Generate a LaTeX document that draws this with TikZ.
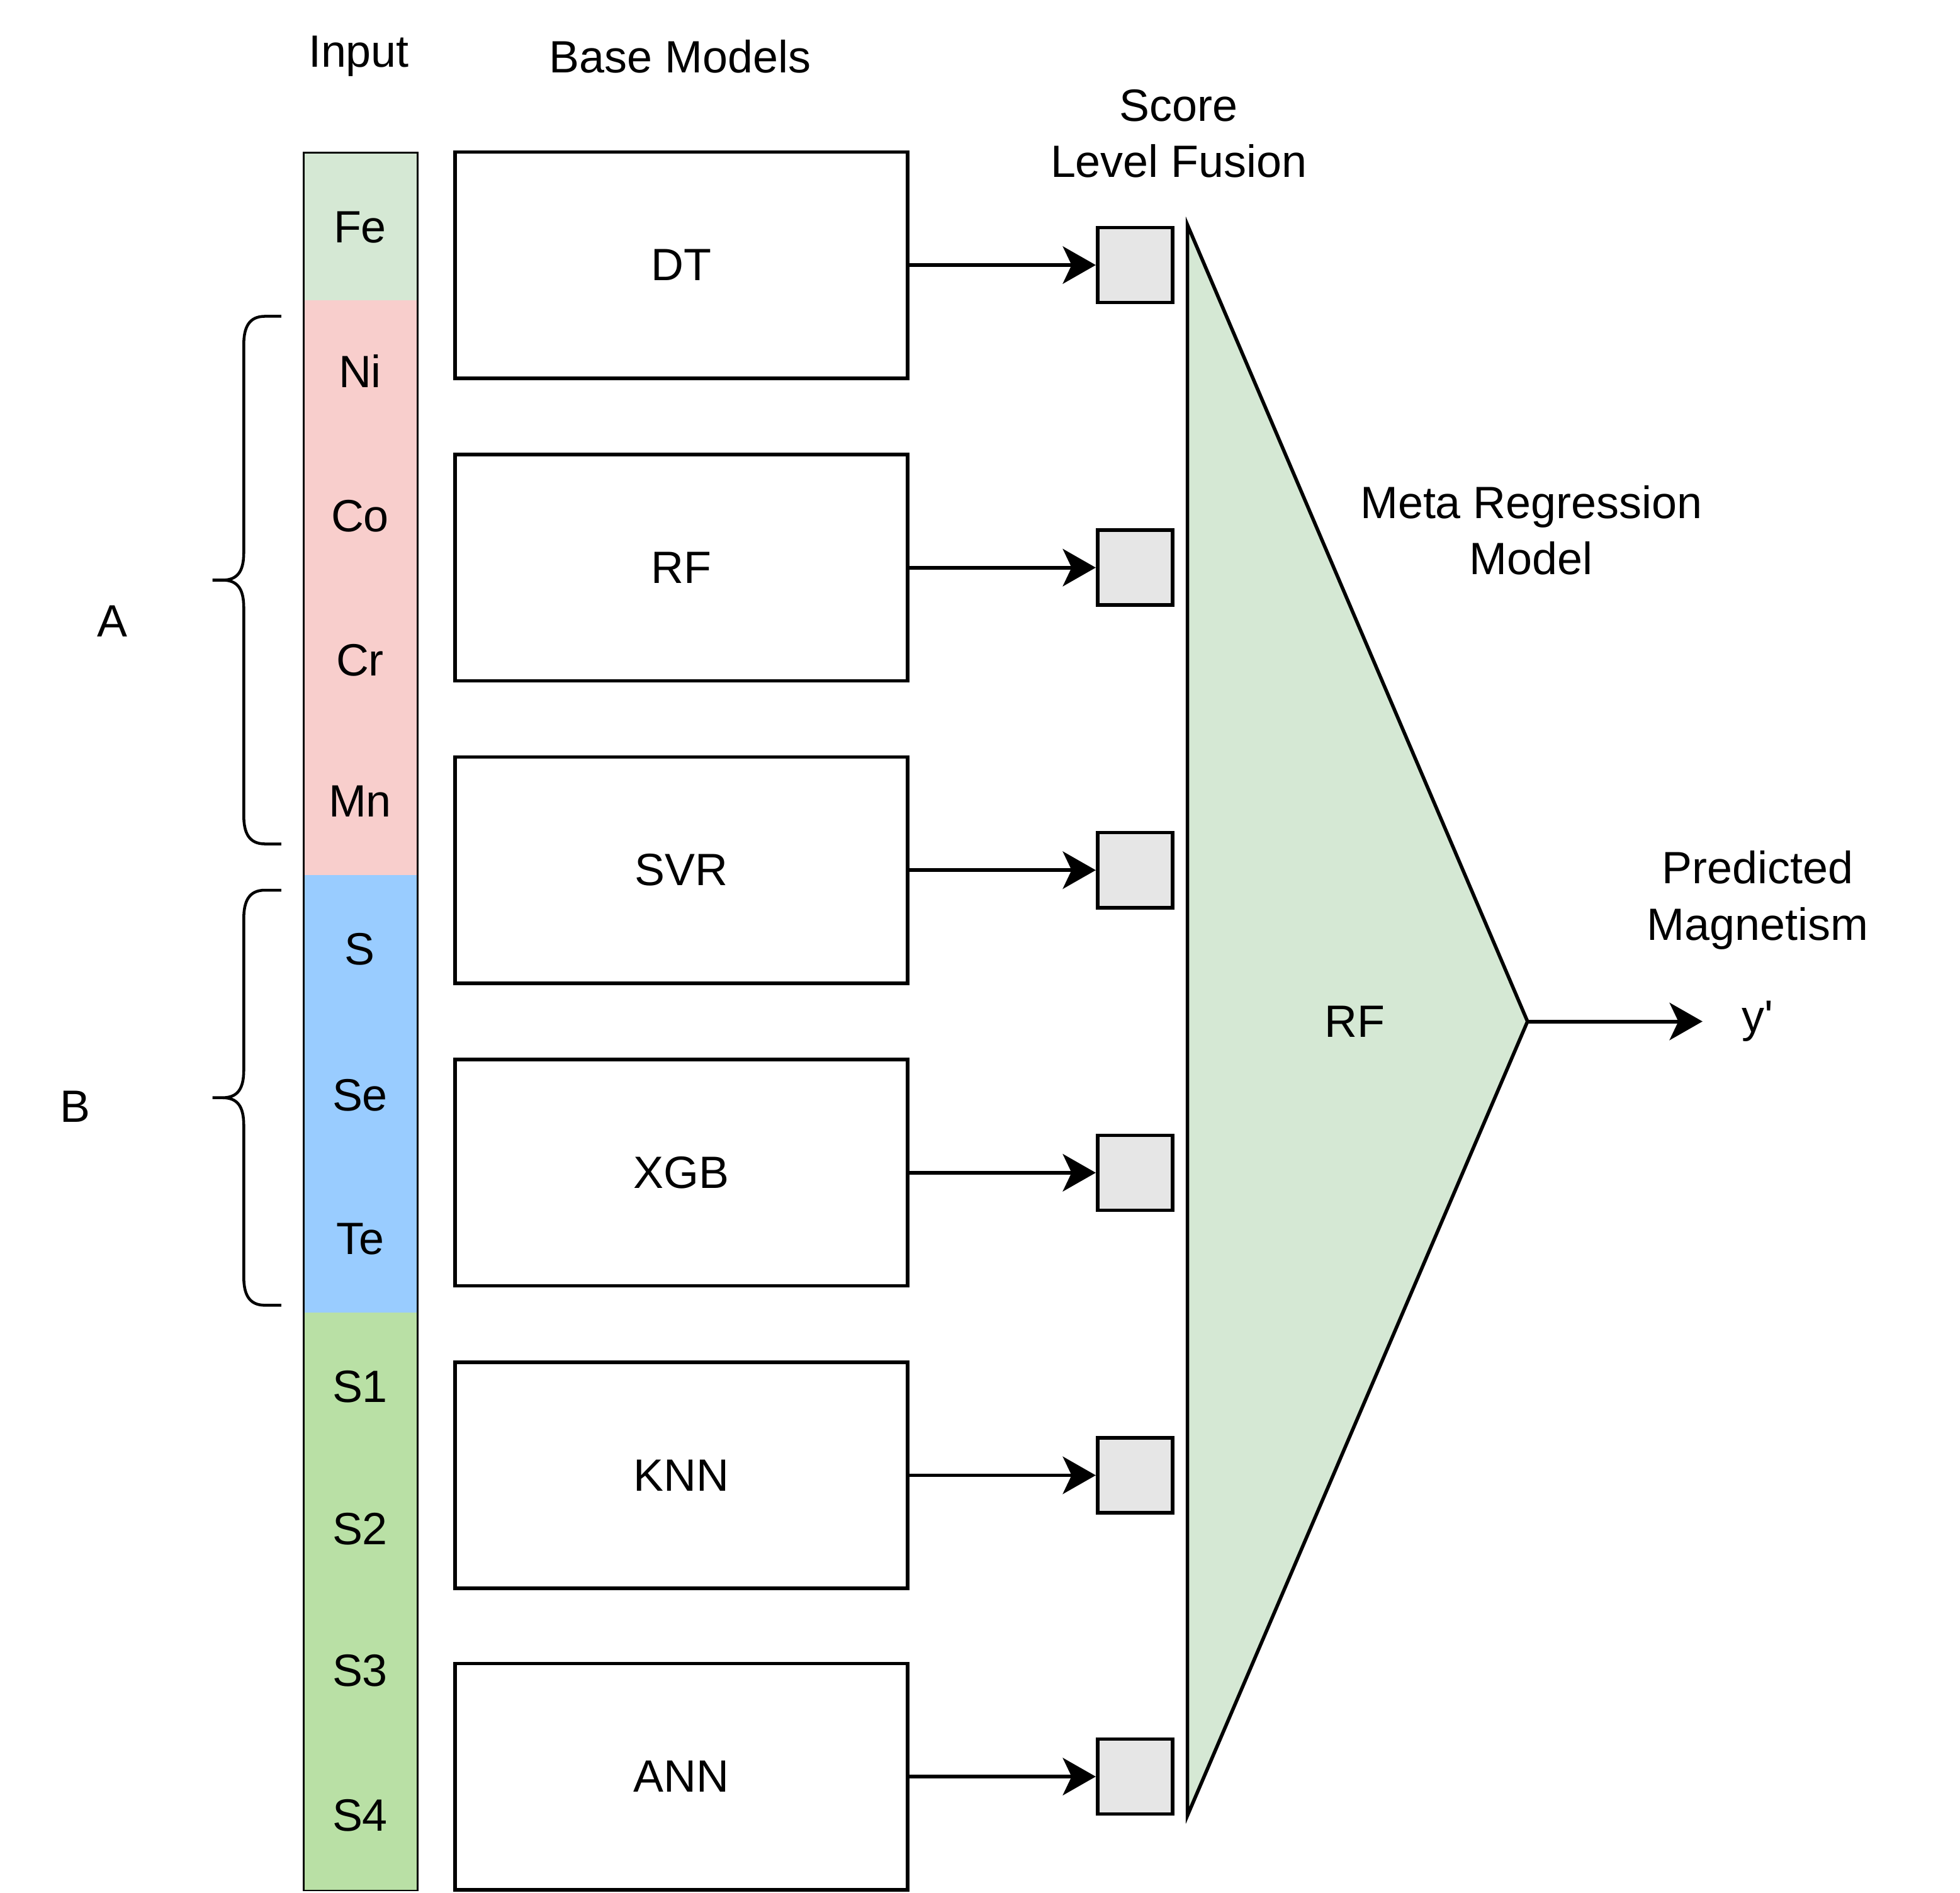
\documentclass[tikz,border=0pt]{standalone}
\usepackage{fontspec}
\setmainfont{Liberation Sans}
\usetikzlibrary{arrows.meta}
\definecolor{feC}{HTML}{D5E8D4}
\definecolor{aC}{HTML}{F8CECC}
\definecolor{bC}{HTML}{99CCFF}
\definecolor{sC}{HTML}{B9E0A5}
\definecolor{sqC}{HTML}{E6E6E6}
\tikzset{
  lbl/.style={inner sep=0pt, align=center},
  model/.style={draw, line width=1.6pt, minimum width=7.24cm, minimum height=3.62cm, inner sep=0pt},
  sq/.style={draw, line width=1.6pt, fill=sqC, minimum width=1.2cm, minimum height=1.2cm, inner sep=0pt},
  arr/.style={line width=1.7pt, -{Stealth[length=15pt, width=17pt, inset=4pt]}},
  brace/.style={line width=1.3pt},
}
\begin{document}
\begin{tikzpicture}[x=0.02cm, y=-0.02cm, font=\fontsize{20.6}{25.6}\selectfont]
\useasboundingbox (0,0) rectangle (1568,1514);
% input column
\fill[feC] (243,122) rectangle (334,240);
\fill[aC] (243,240) rectangle (334,700);
\fill[bC] (243,700) rectangle (334,1050);
\fill[sC] (243,1050) rectangle (334,1512);
\draw[line width=0.7pt] (243,122) rectangle (334,1512);
\node[lbl] (fe) at (288,182) {Fe};
\node[lbl] (ni) at (288,297) {Ni};
\node[lbl] (co) at (288,413) {Co};
\node[lbl] (cr) at (288,528) {Cr};
\node[lbl] (mn) at (288,641) {Mn};
\node[lbl] (s) at (288,759) {S};
\node[lbl] (se) at (288,876) {Se};
\node[lbl] (te) at (288,991) {Te};
\node[lbl] (s1) at (288,1109) {S1};
\node[lbl] (s2) at (288,1223) {S2};
\node[lbl] (s3) at (288,1336) {S3};
\node[lbl] (s4) at (288,1452) {S4};
% titles
\node[lbl] (tinput) at (287,45) {Input};
\node[lbl] (tbase) at (544,45) {Base Models};
\node[lbl] (tscore) at (943,107) {Score\\Level Fusion};
\node[lbl] (tmeta) at (1225,424) {Meta Regression\\Model};
\node[lbl] (tpred) at (1406,720) {Predicted\\Magnetism};
% braces
\draw[brace] (225,253) -- (212,253) .. controls (199,253) and (195,262) .. (195,276) -- (195,442) .. controls (195,457) and (190,464) .. (178,464) -- (170,464)
  (178,464) .. controls (190,464) and (195,471) .. (195,486) -- (195,652) .. controls (195,666) and (199,675) .. (212,675) -- (225,675);
\draw[brace] (225,712) -- (212,712) .. controls (199,712) and (195,721) .. (195,735) -- (195,856) .. controls (195,871) and (190,878) .. (178,878) -- (170,878)
  (178,878) .. controls (190,878) and (195,885) .. (195,900) -- (195,1021) .. controls (195,1035) and (199,1044) .. (212,1044) -- (225,1044);
\node[lbl] (la) at (90,497) {A};
\node[lbl] (lb) at (60,885) {B};
% base models
\node[model] (dt) at (545,212) {DT};
\node[model] (rf) at (545,454) {RF};
\node[model] (svr) at (545,696) {SVR};
\node[model] (xgb) at (545,938) {XGB};
\node[model] (knn) at (545,1180) {KNN};
\node[model] (ann) at (545,1421) {ANN};
% score squares
\node[sq] (q1) at (908,212) {};
\node[sq] (q2) at (908,454) {};
\node[sq] (q3) at (908,696) {};
\node[sq] (q4) at (908,938) {};
\node[sq] (q5) at (908,1180) {};
\node[sq] (q6) at (908,1421) {};
\draw[arr] (dt.east) -- (q1.west);
\draw[arr] (rf.east) -- (q2.west);
\draw[arr] (svr.east) -- (q3.west);
\draw[arr] (xgb.east) -- (q4.west);
\draw[arr] (knn.east) -- (q5.west);
\draw[arr] (ann.east) -- (q6.west);
% meta triangle
\coordinate (ttop) at (950,180);
\coordinate (tbot) at (950,1452);
\coordinate (tapex) at (1222,817);
\draw[line width=1.6pt, fill=feC, line join=miter] (ttop) -- (tapex) -- (tbot) -- cycle;
\node[lbl] (metarf) at (1084,817) {RF};
\node[lbl, anchor=west] (yout) at (1393,817) {y\textquotesingle};
\coordinate (yend) at (1362,817);
\draw[arr] (tapex) -- (yend);
\end{tikzpicture}
\end{document}
